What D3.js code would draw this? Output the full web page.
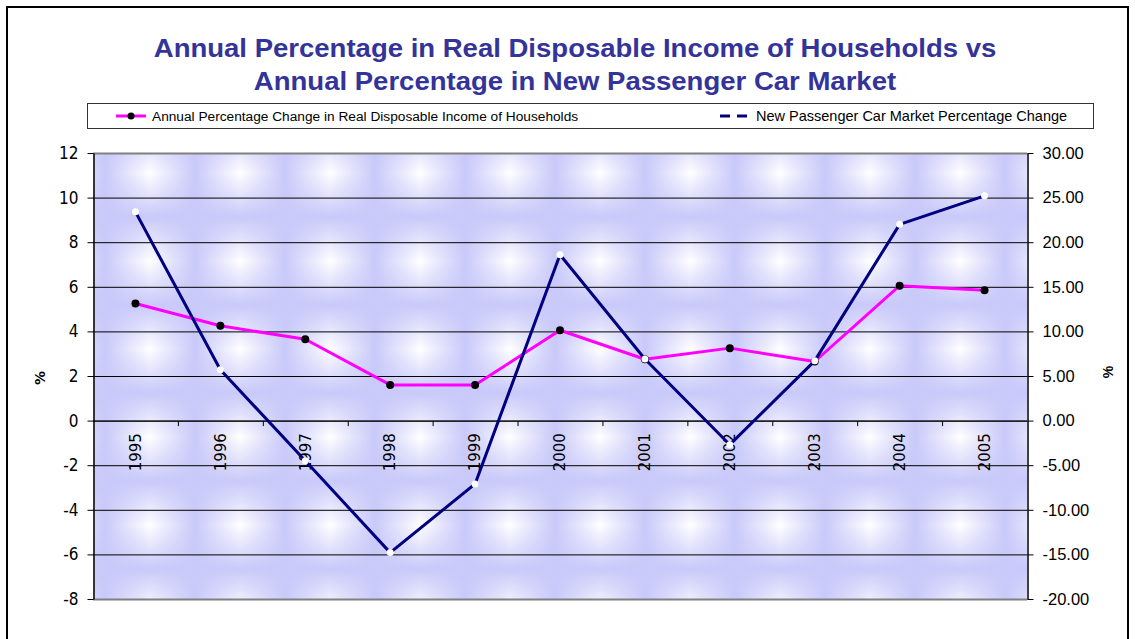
<!DOCTYPE html>
<html>
<head>
<meta charset="utf-8">
<script src="https://cdn.jsdelivr.net/npm/d3@7"></script>
<style>
  body { margin: 0; background: #fff; }
  svg { display: block; }
</style>
</head>
<body>
<svg id="chart" width="1135" height="639"></svg>
<script>
var years = ['1995','1996','1997','1998','1999','2000','2001','2002','2003','2004','2005'];
var incomeChange = [5.25, 4.25, 3.65, 1.6, 1.6, 4.05, 2.75, 3.25, 2.65, 6.05, 5.85];
var carMarketChange = [23.4, 5.7, -4.5, -14.8, -7.1, 18.6, 6.9, -2.7, 6.7, 22.0, 25.2];
var leftTicks = [-8, -6, -4, -2, 0, 2, 4, 6, 8, 10, 12];
var rightTicks = [-20, -15, -10, -5, 0, 5, 10, 15, 20, 25, 30];
var titleLines = ['Annual Percentage in Real Disposable Income of Households vs',
                  'Annual Percentage in New Passenger Car Market'];
var incomeName = 'Annual Percentage Change in Real Disposable Income of Households';
var carName = 'New Passenger Car Market Percentage Change';

var svg = d3.select('#chart'),
    margin = {top: 153, right: 108, bottom: 40, left: 93},
    width = 1135 - margin.left - margin.right,
    height = 599 - margin.top;

var x = d3.scaleBand().domain(years).range([margin.left, margin.left + width]);
var yL = d3.scaleLinear().domain([-8, 12]).range([margin.top + height, margin.top]);
var yR = d3.scaleLinear().domain([-20, 30]).range([margin.top + height, margin.top]);

// hyphen minus like excel
var hy = function(f) { return function(d) { return f(d).replace('\u2212', '-'); }; };

// outer frame
svg.append('rect')
    .attr('x', 7).attr('y', 7).attr('width', 1121).attr('height', 700)
    .attr('fill', '#fff').attr('stroke', '#000').attr('stroke-width', 2);

// background texture: soft white box in each tile
var defs = svg.append('defs');
var lav = '#c9c9fa';
var hg = defs.append('linearGradient').attr('id', 'hg').attr('x1', 0).attr('x2', 1).attr('y1', 0).attr('y2', 0);
hg.append('stop').attr('offset', '0%').attr('stop-color', lav);
hg.append('stop').attr('offset', '50%').attr('stop-color', '#ffffff');
hg.append('stop').attr('offset', '100%').attr('stop-color', lav);
var vg = defs.append('linearGradient').attr('id', 'vg').attr('x1', 0).attr('x2', 0).attr('y1', 0).attr('y2', 1);
vg.append('stop').attr('offset', '0%').attr('stop-color', lav).attr('stop-opacity', 1);
vg.append('stop').attr('offset', '50%').attr('stop-color', lav).attr('stop-opacity', 0);
vg.append('stop').attr('offset', '100%').attr('stop-color', lav).attr('stop-opacity', 1);
var pat = defs.append('pattern').attr('id', 'tex')
    .attr('patternUnits', 'userSpaceOnUse')
    .attr('x', 105).attr('y', 129).attr('width', 90).attr('height', 88);
pat.append('rect').attr('width', 90).attr('height', 88).attr('fill', 'url(#hg)');
pat.append('rect').attr('width', 90).attr('height', 88).attr('fill', 'url(#vg)');

svg.append('rect')
    .attr('x', margin.left).attr('y', margin.top)
    .attr('width', width).attr('height', height)
    .attr('fill', 'url(#tex)');

// gridlines
svg.append('g').selectAll('line')
  .data(leftTicks)
  .join('line')
    .attr('x1', margin.left).attr('x2', margin.left + width)
    .attr('y1', function(d) { return yL(d) + 0.5; })
    .attr('y2', function(d) { return yL(d) + 0.5; })
    .attr('stroke', function(d) { return (d === 12 || d === -8) ? '#808080' : '#000'; })
    .attr('stroke-width', function(d) { return (d === 12 || d === -8) ? 2 : 1; });

// left axis
var gl = svg.append('g')
    .attr('transform', 'translate(' + (margin.left + 0.5) + ',0)')
    .call(d3.axisLeft(yL).tickValues(leftTicks).tickFormat(hy(d3.format('d')))
      .tickSize(6).tickPadding(9).tickSizeOuter(0));
gl.selectAll('text')
    .attr('font-family', '"DejaVu Sans Condensed", "DejaVu Sans", sans-serif')
    .style('font-stretch', 'condensed')
    .attr('font-size', 17).attr('fill', '#000');
gl.select('.domain').attr('stroke', '#000').attr('stroke-width', 1.5);

// right axis
var gr = svg.append('g')
    .attr('transform', 'translate(' + (margin.left + width + 0.5) + ',0)')
    .call(d3.axisRight(yR).tickValues(rightTicks).tickFormat(hy(d3.format('.2f')))
      .tickSize(6).tickPadding(9).tickSizeOuter(0));
gr.selectAll('text')
    .attr('font-family', '"Liberation Sans", Arial, sans-serif')
    .attr('font-size', 16.5).attr('fill', '#000');
gr.select('.domain').attr('stroke', '#000').attr('stroke-width', 1.5);

// category axis at zero
var gx = svg.append('g')
    .attr('transform', 'translate(0,' + (yL(0) + 0.5) + ')');
gx.append('line')
    .attr('x1', margin.left).attr('x2', margin.left + width)
    .attr('stroke', '#000');
gx.selectAll('.tk')
  .data(years.slice(1))
  .join('line')
    .attr('class', 'tk')
    .attr('x1', function(d) { return x(d) + 0.5; })
    .attr('x2', function(d) { return x(d) + 0.5; })
    .attr('y1', 0).attr('y2', 5)
    .attr('stroke', '#000');
gx.selectAll('text')
  .data(years)
  .join('text')
    .attr('transform', function(d) {
      return 'translate(' + (x(d) + x.bandwidth() / 2) + ',12) rotate(-90)';
    })
    .attr('text-anchor', 'end')
    .attr('dy', '0.35em')
    .attr('font-family', '"DejaVu Sans", sans-serif')
    .attr('font-size', 15)
    .text(function(d) { return d; });

// axis titles
svg.append('text')
    .attr('transform', 'translate(40,378) rotate(-90)')
    .attr('text-anchor', 'middle').attr('dy', '0.35em')
    .attr('font-family', '"DejaVu Sans", sans-serif')
    .attr('font-size', 14).attr('font-weight', 'bold')
    .text('%');
svg.append('text')
    .attr('transform', 'translate(1108,372) rotate(-90)')
    .attr('text-anchor', 'middle').attr('dy', '0.35em')
    .attr('font-family', '"Liberation Sans", Arial, sans-serif')
    .attr('font-size', 14).attr('font-weight', 'bold')
    .text('%');

// series
var cx = function(d, i) { return x(years[i]) + x.bandwidth() / 2; };
var incomeLine = d3.line().x(cx).y(function(d) { return yL(d); });
var carLine = d3.line().x(cx).y(function(d) { return yR(d); });

svg.append('path')
    .datum(incomeChange)
    .attr('fill', 'none')
    .attr('stroke', '#ff00ff')
    .attr('stroke-width', 3)
    .attr('stroke-linejoin', 'round')
    .attr('d', incomeLine);
svg.append('g').selectAll('circle')
  .data(incomeChange)
  .join('circle')
    .attr('cx', cx)
    .attr('cy', function(d) { return yL(d); })
    .attr('r', 4)
    .attr('fill', '#000');

svg.append('path')
    .datum(carMarketChange)
    .attr('fill', 'none')
    .attr('stroke', '#000080')
    .attr('stroke-width', 3)
    .attr('stroke-linejoin', 'round')
    .attr('d', carLine);
svg.append('g').selectAll('circle')
  .data(carMarketChange)
  .join('circle')
    .attr('cx', cx)
    .attr('cy', function(d) { return yR(d); })
    .attr('r', 3.5)
    .attr('fill', '#fff');

// title (excel stretches it a bit wider)
svg.append('g').selectAll('text')
  .data(titleLines)
  .join('text')
    .attr('transform', function(d, i) { return 'translate(575,' + (57 + i * 33) + ') scale(1.08,1)'; })
    .attr('text-anchor', 'middle')
    .attr('font-family', '"Liberation Sans", Arial, sans-serif')
    .attr('font-size', 25.5).attr('font-weight', 'bold')
    .attr('fill', '#333399')
    .text(function(d) { return d; });

// legend
var lg = svg.append('g');
lg.append('rect')
    .attr('x', 87.5).attr('y', 103.5).attr('width', 1006).attr('height', 25)
    .attr('fill', '#fff').attr('stroke', '#333').attr('stroke-width', 1);
lg.append('line')
    .attr('x1', 116).attr('x2', 146).attr('y1', 116).attr('y2', 116)
    .attr('stroke', '#ff00ff').attr('stroke-width', 3);
lg.append('circle').attr('cx', 131).attr('cy', 116).attr('r', 3.5).attr('fill', '#000');
lg.append('text')
    .attr('x', 152).attr('y', 121)
    .attr('font-family', '"Liberation Sans", Arial, sans-serif')
    .attr('font-size', 13.7)
    .text(incomeName);
lg.append('line')
    .attr('x1', 720).attr('x2', 750).attr('y1', 116).attr('y2', 116)
    .attr('stroke', '#000080').attr('stroke-width', 3)
    .attr('stroke-dasharray', '10,7');
lg.append('text')
    .attr('x', 756).attr('y', 121)
    .attr('font-family', '"Liberation Sans", Arial, sans-serif')
    .attr('font-size', 14.5)
    .text(carName);
</script>
</body>
</html>
